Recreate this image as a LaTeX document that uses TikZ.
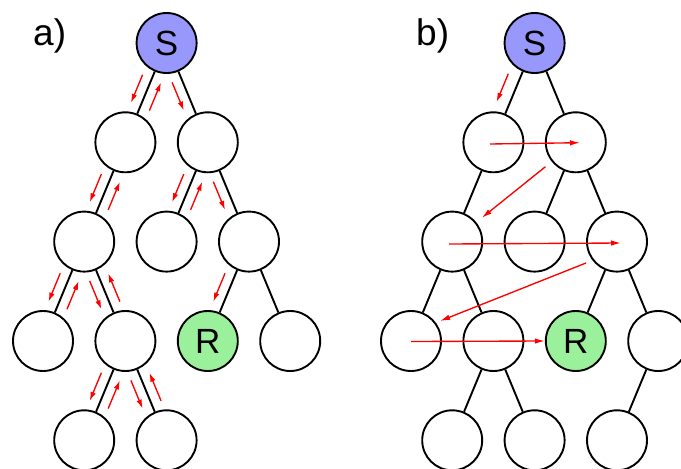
\documentclass[tikz,border=0pt]{standalone}
\usepackage{fontspec}
\setmainfont{Liberation Sans}
\usetikzlibrary{calc,arrows.meta}
\definecolor{sblue}{RGB}{152,152,252}
\definecolor{rgreen}{RGB}{155,240,155}
\tikzset{
  vert/.style={circle,draw,line width=1.9pt,minimum size=60pt,inner sep=0pt,font=\fontsize{35}{38}\selectfont},
  link/.style={line width=1.9pt},
  flow/.style={red,line width=1.35pt,-{Latex[length=9pt,width=5.5pt]}},
  flowb/.style={red,line width=1.35pt,-{Latex[length=10pt,width=5.5pt]}},
  lab/.style={anchor=base west,inner sep=0pt,font=\fontsize{37}{40}\selectfont}
}
\newcommand\dnarr[3][10pt]{\draw[flow,shorten <=38.5pt,shorten >=38.5pt] ($(#2)!#1!-90:(#3)$) -- ($(#3)!#1!90:(#2)$);}
\newcommand\uparr[3][10pt]{\draw[flow,shorten <=38.5pt,shorten >=38.5pt] ($(#3)!#1!-90:(#2)$) -- ($(#2)!#1!90:(#3)$);}
\begin{document}
\begin{tikzpicture}[x=1pt,y=-1pt]
\clip (0,0) rectangle (681,469);
\fill[white] (0,0) rectangle (681,469);
% ---------- panel a ----------
\node[lab] (la) at (33,45) {a)};
\node[vert,fill=sblue] (aS) at (166.6,43) {S};
\node[vert] (a1a) at (125.4,142.3) {};
\node[vert] (a1b) at (207.8,142.3) {};
\node[vert] (a2a) at (84.2,241.6) {};
\node[vert] (a2b) at (166.6,241.6) {};
\node[vert] (a2c) at (249,241.6) {};
\node[vert] (a3a) at (43,341) {};
\node[vert] (a3b) at (125.4,341) {};
\node[vert,fill=rgreen] (aR) at (207.8,341) {R};
\node[vert] (a3d) at (290.2,341) {};
\node[vert] (a4a) at (84.2,440.3) {};
\node[vert] (a4b) at (166.6,440.3) {};
\draw[link] (aS) -- (a1a);
\draw[link] (aS) -- (a1b);
\draw[link] (a1a) -- (a2a);
\draw[link] (a1b) -- (a2b);
\draw[link] (a1b) -- (a2c);
\draw[link] (a2a) -- (a3a);
\draw[link] (a2a) -- (a3b);
\draw[link] (a2c) -- (aR);
\draw[link] (a2c) -- (a3d);
\draw[link] (a3b) -- (a4a);
\draw[link] (a3b) -- (a4b);
\dnarr{aS}{a1a} \uparr{aS}{a1a}
\dnarr{aS}{a1b}
\dnarr{a1a}{a2a} \uparr{a1a}{a2a}
\dnarr{a1b}{a2b} \uparr{a1b}{a2b}
\dnarr{a1b}{a2c}
\dnarr{a2a}{a3a} \uparr{a2a}{a3a}
\dnarr{a2a}{a3b} \uparr{a2a}{a3b}
\dnarr{a2c}{aR}
\dnarr{a3b}{a4a} \uparr{a3b}{a4a}
\dnarr{a3b}{a4b} \uparr{a3b}{a4b}
% ---------- panel b ----------
\node[lab] (lb) at (416,45) {b)};
\node[vert,fill=sblue] (bS) at (534.6,43) {S};
\node[vert] (b1a) at (493.4,142.3) {};
\node[vert] (b1b) at (575.8,142.3) {};
\node[vert] (b2a) at (452.2,241.6) {};
\node[vert] (b2b) at (534.6,241.6) {};
\node[vert] (b2c) at (617,241.6) {};
\node[vert] (b3a) at (411,341) {};
\node[vert] (b3b) at (493.4,341) {};
\node[vert,fill=rgreen] (bR) at (575.8,341) {R};
\node[vert] (b3d) at (658.2,341) {};
\node[vert] (b4a) at (452.2,440.3) {};
\node[vert] (b4b) at (534.6,440.3) {};
\node[vert] (b4c) at (617,440.3) {};
\draw[link] (bS) -- (b1a);
\draw[link] (bS) -- (b1b);
\draw[link] (b1a) -- (b2a);
\draw[link] (b1b) -- (b2b);
\draw[link] (b1b) -- (b2c);
\draw[link] (b2a) -- (b3a);
\draw[link] (b2a) -- (b3b);
\draw[link] (b2c) -- (bR);
\draw[link] (b2c) -- (b3d);
\draw[link] (b3b) -- (b4a);
\draw[link] (b3b) -- (b4b);
\draw[link] (b3d) -- (b4c);
\dnarr[12.5pt]{bS}{b1a}
\draw[flowb] ($(b1a)+(-3.4,1.7)$) -- ($(b1b)+(4.2,0.4)$);
\draw[flowb,shorten <=39pt,shorten >=38pt] (b1b.center) -- (b2a.center);
\draw[flowb] ($(b2a)+(-3.2,2.4)$) -- ($(b2c)+(4,1.4)$);
\draw[flowb] ($(b2c)+(-31,21.4)$) -- ($(b3a)+(29,-20)$);
\draw[flowb] ($(b3a)+(0,0.5)$) -- (bR.west);
\end{tikzpicture}
\end{document}
